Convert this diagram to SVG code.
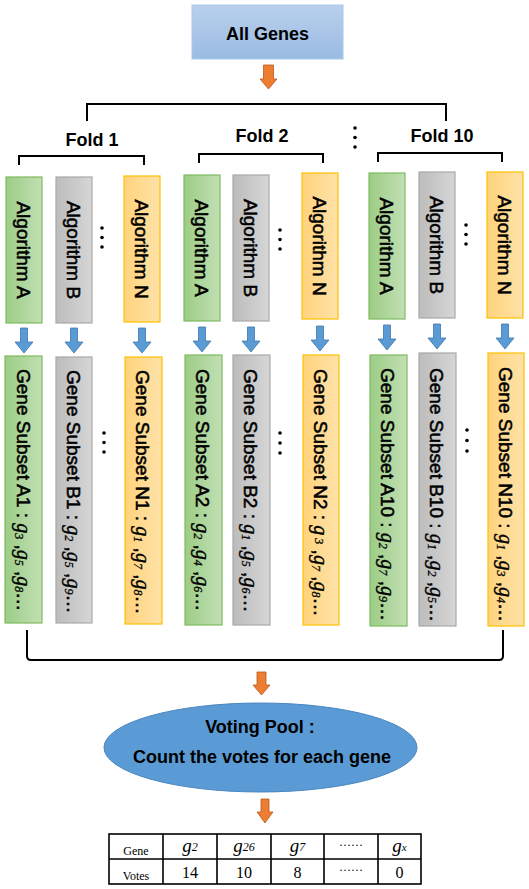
<svg xmlns="http://www.w3.org/2000/svg" width="529" height="889" viewBox="0 0 529 889">
<defs>
<linearGradient id="gBlue" x1="0" y1="0" x2="0" y2="1"><stop offset="0" stop-color="#b8d0ec"/><stop offset="1" stop-color="#9bbbe3"/></linearGradient>
<linearGradient id="gGreen" x1="0" y1="0" x2="1" y2="0"><stop offset="0" stop-color="#9ccd86"/><stop offset="1" stop-color="#c2dfb3"/></linearGradient>
<linearGradient id="gGrey" x1="0" y1="0" x2="1" y2="0"><stop offset="0" stop-color="#bcbcbc"/><stop offset="1" stop-color="#d6d6d6"/></linearGradient>
<linearGradient id="gOrange" x1="0" y1="0" x2="1" y2="0"><stop offset="0" stop-color="#ffd37c"/><stop offset="1" stop-color="#ffe2a8"/></linearGradient>
<style>
.green{fill:url(#gGreen);stroke:#7dbb5f;stroke-width:1.2}
.grey{fill:url(#gGrey);stroke:#a8a8a8;stroke-width:1.2}
.orange{fill:url(#gOrange);stroke:#ffc000;stroke-width:1.2}
.lbl{font-family:"Liberation Sans",Arial,sans-serif;font-size:19px;fill:#000;stroke:#000;stroke-width:0.55}
.bold{font-family:"Liberation Sans",Arial,sans-serif;font-weight:bold;font-size:18px;fill:#000}
.g{font-family:"Liberation Serif","Times New Roman",serif;font-style:italic;font-size:20px;stroke-width:0.4}
.s{font-family:"Liberation Serif","Times New Roman",serif;font-style:italic;font-size:12px;stroke-width:0.3}
.br{fill:none;stroke:#000;stroke-width:2}
.oa{fill:#ed7d31;stroke:#b65a1e;stroke-width:0.8}
.ba{fill:#5b9bd5;stroke:#3f76a8;stroke-width:0.8}
.dot{fill:#000}
.tb{font-family:"Liberation Serif","Times New Roman",serif;fill:#000}
</style>
</defs>
<rect width="529" height="889" fill="#fff"/>

<g id="all-genes">
<rect x="192" y="5" width="151" height="54" fill="url(#gBlue)" stroke="#a9c8ea" stroke-width="1"/>
<text class="bold" x="267.5" y="40" text-anchor="middle">All Genes</text>
</g>

<g id="fold-labels">
<text class="bold" x="92" y="146" text-anchor="middle">Fold 1</text>
<text class="bold" x="262" y="142" text-anchor="middle">Fold 2</text>
<text class="bold" x="442" y="142" text-anchor="middle">Fold 10</text>
<circle class="dot" cx="355" cy="128" r="1.8"/><circle class="dot" cx="355" cy="137.5" r="1.8"/><circle class="dot" cx="355" cy="147" r="1.8"/>
</g>

<g id="connectors">
<path class="br" d="M87,121 V104 H446 V121"/>
<path class="br" d="M19,165 V156 H144 V165"/>
<path class="br" d="M199,163 V154 H323 V163"/>
<path class="br" d="M378,162 V153 H502 V162"/>
<path class="br" d="M27,630 V656 Q27,660 31,660 H499 Q503,660 503,656 V630"/>
<path class="oa" d="M263.5,65 H273.5 V79 H277 L268.5,89 L260,79 H263.5 Z"/>
<path class="oa" d="M257,672 H266 V685 H270 L261.5,695 L253,685 H257 Z"/>
<path class="oa" d="M261,799 H269 V812 H273 L265,823 L257,812 H261 Z"/>
<g id="blue-arrows">
<path class="ba" d="M20.5,328 H27.5 V342 H33 L24,353 L15,342 H20.5 Z"/>
<path class="ba" d="M70.5,328 H77.5 V342 H83 L74,353 L65,342 H70.5 Z"/>
<path class="ba" d="M138.5,328 H145.5 V342 H151 L142,353 L133,342 H138.5 Z"/>
<path class="ba" d="M198.5,327 H205.5 V341 H211 L202,352 L193,341 H198.5 Z"/>
<path class="ba" d="M247.5,327 H254.5 V341 H260 L251,352 L242,341 H247.5 Z"/>
<path class="ba" d="M316.5,326 H323.5 V340 H329 L320,351 L311,340 H316.5 Z"/>
<path class="ba" d="M383.5,325 H390.5 V339 H396 L387,350 L378,339 H383.5 Z"/>
<path class="ba" d="M433.5,324 H440.5 V338 H446 L437,349 L428,338 H433.5 Z"/>
<path class="ba" d="M501.5,324 H508.5 V338 H514 L505,349 L496,338 H501.5 Z"/>
</g>
</g>

<g id="fold1-algorithm-a"><rect class="green" x="6" y="177" width="36" height="146"/><text class="lbl" transform="translate(24,250) rotate(90)" x="0" y="7" text-anchor="middle">Algorithm A</text></g>
<g id="fold1-algorithm-b"><rect class="grey" x="56" y="177" width="36" height="146"/><text class="lbl" transform="translate(74,250) rotate(90)" x="0" y="7" text-anchor="middle">Algorithm B</text></g>
<g id="fold1-algorithm-n"><rect class="orange" x="124" y="176" width="36" height="146"/><text class="lbl" transform="translate(142,249) rotate(90)" x="0" y="7" text-anchor="middle">Algorithm N</text></g>
<g id="fold2-algorithm-a"><rect class="green" x="184" y="175" width="36" height="146"/><text class="lbl" transform="translate(202,248) rotate(90)" x="0" y="7" text-anchor="middle">Algorithm A</text></g>
<g id="fold2-algorithm-b"><rect class="grey" x="233" y="175" width="36" height="146"/><text class="lbl" transform="translate(251,248) rotate(90)" x="0" y="7" text-anchor="middle">Algorithm B</text></g>
<g id="fold2-algorithm-n"><rect class="orange" x="302" y="173" width="36" height="146"/><text class="lbl" transform="translate(320,246) rotate(90)" x="0" y="7" text-anchor="middle">Algorithm N</text></g>
<g id="fold10-algorithm-a"><rect class="green" x="369" y="173" width="36" height="146"/><text class="lbl" transform="translate(387,246) rotate(90)" x="0" y="7" text-anchor="middle">Algorithm A</text></g>
<g id="fold10-algorithm-b"><rect class="grey" x="419" y="172" width="36" height="146"/><text class="lbl" transform="translate(437,245) rotate(90)" x="0" y="7" text-anchor="middle">Algorithm B</text></g>
<g id="fold10-algorithm-n"><rect class="orange" x="487" y="172" width="36" height="146"/><text class="lbl" transform="translate(505,245) rotate(90)" x="0" y="7" text-anchor="middle">Algorithm N</text></g>

<g id="ellipses">
<circle class="dot" cx="102" cy="228" r="1.8"/><circle class="dot" cx="102" cy="237.5" r="1.8"/><circle class="dot" cx="102" cy="247" r="1.8"/>
<circle class="dot" cx="280" cy="230" r="1.8"/><circle class="dot" cx="280" cy="239.5" r="1.8"/><circle class="dot" cx="280" cy="249" r="1.8"/>
<circle class="dot" cx="466" cy="225" r="1.8"/><circle class="dot" cx="466" cy="234.5" r="1.8"/><circle class="dot" cx="466" cy="244" r="1.8"/>
<circle class="dot" cx="104" cy="433" r="1.8"/><circle class="dot" cx="104" cy="442.5" r="1.8"/><circle class="dot" cx="104" cy="452" r="1.8"/>
<circle class="dot" cx="280" cy="433" r="1.8"/><circle class="dot" cx="280" cy="443" r="1.8"/><circle class="dot" cx="280" cy="453" r="1.8"/>
<circle class="dot" cx="467" cy="430" r="1.8"/><circle class="dot" cx="467" cy="440.5" r="1.8"/><circle class="dot" cx="467" cy="451" r="1.8"/>
</g>

<g id="subset-a1"><rect class="green" x="5" y="356" width="37" height="267"/><text class="lbl" transform="translate(24,369) rotate(90)" y="7">Gene Subset A1 : <tspan class="g">g</tspan><tspan class="s" dy="2">3</tspan><tspan dy="-2"> ,</tspan><tspan class="g">g</tspan><tspan class="s" dy="2">5</tspan><tspan dy="-2"> ,</tspan><tspan class="g">g</tspan><tspan class="s" dy="2">8</tspan><tspan dy="-2">…</tspan></text></g>
<g id="subset-b1"><rect class="grey" x="56" y="357" width="36" height="266"/><text class="lbl" transform="translate(74,370) rotate(90)" y="7">Gene Subset B1 : <tspan class="g">g</tspan><tspan class="s" dy="2">2</tspan><tspan dy="-2"> ,</tspan><tspan class="g">g</tspan><tspan class="s" dy="2">5</tspan><tspan dy="-2"> ,</tspan><tspan class="g">g</tspan><tspan class="s" dy="2">9</tspan><tspan dy="-2">…</tspan></text></g>
<g id="subset-n1"><rect class="orange" x="125" y="357" width="37" height="267"/><text class="lbl" transform="translate(143,370) rotate(90)" y="7">Gene Subset N1 : <tspan class="g">g</tspan><tspan class="s" dy="2">1</tspan><tspan dy="-2"> ,</tspan><tspan class="g">g</tspan><tspan class="s" dy="2">7</tspan><tspan dy="-2"> ,</tspan><tspan class="g">g</tspan><tspan class="s" dy="2">8</tspan><tspan dy="-2">…</tspan></text></g>
<g id="subset-a2"><rect class="green" x="185" y="355" width="37" height="270"/><text class="lbl" transform="translate(203,369) rotate(90)" y="7">Gene Subset A2 : <tspan class="g">g</tspan><tspan class="s" dy="2">2</tspan><tspan dy="-2"> ,</tspan><tspan class="g">g</tspan><tspan class="s" dy="2">4</tspan><tspan dy="-2"> ,</tspan><tspan class="g">g</tspan><tspan class="s" dy="2">6</tspan><tspan dy="-2">…</tspan></text></g>
<g id="subset-b2"><rect class="grey" x="233" y="355" width="37" height="270"/><text class="lbl" transform="translate(251,369) rotate(90)" y="7">Gene Subset B2 : <tspan class="g">g</tspan><tspan class="s" dy="2">1</tspan><tspan dy="-2"> ,</tspan><tspan class="g">g</tspan><tspan class="s" dy="2">5</tspan><tspan dy="-2"> ,</tspan><tspan class="g">g</tspan><tspan class="s" dy="2">6</tspan><tspan dy="-2">…</tspan></text></g>
<g id="subset-n2"><rect class="orange" x="303" y="355" width="36" height="270"/><text class="lbl" transform="translate(321,369) rotate(90)" y="7">Gene Subset N2 : <tspan class="g">g</tspan><tspan class="s" dy="-1"> 3</tspan><tspan dy="1"> ,</tspan><tspan class="g">g</tspan><tspan class="s" dy="2">7</tspan><tspan dy="-2"> ,</tspan><tspan class="g">g</tspan><tspan class="s" dy="2">8</tspan><tspan dy="-2">…</tspan></text></g>
<g id="subset-a10"><rect class="green" x="370" y="355" width="37" height="271"/><text class="lbl" transform="translate(388,368) rotate(90)" y="7">Gene Subset A10 : <tspan class="g">g</tspan><tspan class="s" dy="2">2</tspan><tspan dy="-2"> ,</tspan><tspan class="g">g</tspan><tspan class="s" dy="2">7</tspan><tspan dy="-2"> ,</tspan><tspan class="g">g</tspan><tspan class="s" dy="2">9</tspan><tspan dy="-2">…</tspan></text></g>
<g id="subset-b10"><rect class="grey" x="419" y="353" width="37" height="273"/><text class="lbl" transform="translate(437,368) rotate(90)" y="7">Gene Subset B10 : <tspan class="g">g</tspan><tspan class="s" dy="2">1</tspan><tspan dy="-2"> ,</tspan><tspan class="g">g</tspan><tspan class="s" dy="2">2</tspan><tspan dy="-2"> ,</tspan><tspan class="g">g</tspan><tspan class="s" dy="2">5</tspan><tspan dy="-2">…</tspan></text></g>
<g id="subset-n10"><rect class="orange" x="488" y="353" width="36" height="273"/><text class="lbl" transform="translate(506,367) rotate(90)" y="7">Gene Subset N10 : <tspan class="g">g</tspan><tspan class="s" dy="2">1</tspan><tspan dy="-2"> ,</tspan><tspan class="g">g</tspan><tspan class="s" dy="2">3</tspan><tspan dy="-2"> ,</tspan><tspan class="g">g</tspan><tspan class="s" dy="2">4</tspan><tspan dy="-2">…</tspan></text></g>

<g id="voting-pool">
<ellipse cx="260.5" cy="747.5" rx="156.5" ry="44.5" fill="#5b9bd5" stroke="#4a86c0" stroke-width="1"/>
<text class="bold" x="260" y="733" text-anchor="middle">Voting Pool :</text>
<text class="bold" x="262" y="763" text-anchor="middle">Count the votes for each gene</text>
</g>

<g id="vote-table">
<rect x="109" y="834" width="312" height="50" fill="#fff" stroke="#000" stroke-width="1.6"/>
<path d="M109,859 H421 M163,834 V884 M217,834 V884 M271,834 V884 M324,834 V884 M378,834 V884" stroke="#000" stroke-width="1.6" fill="none"/>
<text class="tb" x="136" y="855" font-size="12" text-anchor="middle">Gene</text>
<text class="tb" x="136" y="880" font-size="12" text-anchor="middle">Votes</text>
<text class="tb" x="190" y="852" text-anchor="middle"><tspan font-style="italic" font-size="19">g</tspan><tspan font-size="12" font-style="italic" dy="-1">2</tspan></text>
<text class="tb" x="244" y="852" text-anchor="middle"><tspan font-style="italic" font-size="19">g</tspan><tspan font-size="12" font-style="italic" dy="-1">26</tspan></text>
<text class="tb" x="297.5" y="852" text-anchor="middle"><tspan font-style="italic" font-size="19">g</tspan><tspan font-size="12" font-style="italic" dy="-1">7</tspan></text>
<text class="tb" x="351" y="846" font-size="12" text-anchor="middle">……</text>
<text class="tb" x="399.5" y="852" text-anchor="middle"><tspan font-style="italic" font-size="19">g</tspan><tspan font-size="11" font-style="italic" dy="-1">x</tspan></text>
<text class="tb" x="190" y="878" font-size="16" text-anchor="middle">14</text>
<text class="tb" x="244" y="878" font-size="16" text-anchor="middle">10</text>
<text class="tb" x="297.5" y="878" font-size="16" text-anchor="middle">8</text>
<text class="tb" x="351" y="871" font-size="12" text-anchor="middle">……</text>
<text class="tb" x="399.5" y="878" font-size="16" text-anchor="middle">0</text>
</g>
</svg>
